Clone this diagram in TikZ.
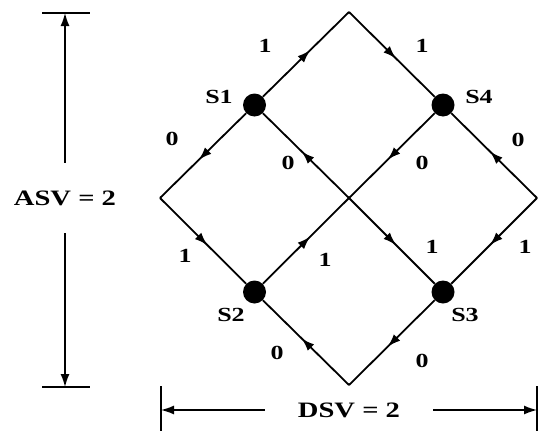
\documentclass[tikz,border=0pt]{standalone}
\usepackage{fontspec}
\setmainfont{Liberation Serif}[FakeStretch=1.3]
\usetikzlibrary{arrows.meta,decorations.markings}
\begin{document}
\begin{tikzpicture}[x=1pt,y=-1pt,
  edge/.style={line width=1.8pt},
  midarrow/.style={edge,postaction={decorate},decoration={markings,
     mark=at position 0.55 with {\arrow{Latex[length=13pt,width=9pt]}}}},
  state/.style={circle,fill=black,inner sep=0pt,minimum size=23pt},
  lbl/.style={font=\fontsize{20}{20}\selectfont\bfseries,inner sep=0pt},
  dimlbl/.style={font=\fontsize{22}{22}\selectfont\bfseries,inner sep=0pt},
  dimline/.style={line width=1.4pt},
  dimarrow/.style={dimline,-{Latex[length=13pt,width=9pt]}}]
\useasboundingbox (0,0) rectangle (538,431);
% diamond corners
\coordinate (T) at (349,12);
\coordinate (L) at (160,198);
\coordinate (R) at (537,198);
\coordinate (B) at (349,385);
\coordinate (C) at (349,198);
\node[state] (S1) at (254.5,105) {};
\node[state] (S4) at (443,105) {};
\node[state] (S2) at (254.5,292) {};
\node[state] (S3) at (443,292) {};
% edges
\draw[midarrow] (S1) -- (T);
\draw[midarrow] (T) -- (S4);
\draw[midarrow] (S1) -- (L);
\draw[midarrow] (C) -- (S1);
\draw[midarrow] (S4) -- (C);
\draw[midarrow] (R) -- (S4);
\draw[midarrow] (L) -- (S2);
\draw[midarrow] (S2) -- (C);
\draw[midarrow] (C) -- (S3);
\draw[midarrow] (R) -- (S3);
\draw[midarrow] (B) -- (S2);
\draw[midarrow] (S3) -- (B);
% state labels
\node[lbl] (l1) at (219,97) {S1};
\node[lbl] (l4) at (479,97) {S4};
\node[lbl] (l2) at (231,315) {S2};
\node[lbl] (l3) at (465,315) {S3};
% edge labels
\node[lbl] (e1) at (265,46) {1};
\node[lbl] (e2) at (422,46) {1};
\node[lbl] (e3) at (172,139) {0};
\node[lbl] (e4) at (288,163) {0};
\node[lbl] (e5) at (422,163) {0};
\node[lbl] (e6) at (518,140) {0};
\node[lbl] (e7) at (185,256) {1};
\node[lbl] (e8) at (325,260) {1};
\node[lbl] (e9) at (432,247) {1};
\node[lbl] (e10) at (525,247) {1};
\node[lbl] (e11) at (277,353) {0};
\node[lbl] (e12) at (422,361) {0};
% ASV dimension
\coordinate (at) at (65,13);
\coordinate (ab) at (65,387);
\coordinate (atl) at (42,13);
\coordinate (atr) at (90,13);
\coordinate (abl) at (42,387);
\coordinate (abr) at (90,387);
\draw[dimline] (atl) -- (atr);
\draw[dimline] (abl) -- (abr);
\node[dimlbl,minimum height=70pt] (asv) at (65,198) {ASV = 2};
\draw[dimarrow] (asv.north) -- (at);
\draw[dimarrow] (asv.south) -- (ab);
% DSV dimension
\coordinate (dl) at (161,410);
\coordinate (dr) at (537,410);
\coordinate (dlt) at (161,386);
\coordinate (dlb) at (161,431);
\coordinate (drt) at (537,386);
\coordinate (drb) at (537,431);
\draw[dimline] (dlt) -- (dlb);
\draw[dimline] (drt) -- (drb);
\node[dimlbl,minimum width=168pt] (dsv) at (349,410) {DSV = 2};
\draw[dimarrow] (dsv.west) -- (dl);
\draw[dimarrow] (dsv.east) -- (dr);
\end{tikzpicture}
\end{document}
